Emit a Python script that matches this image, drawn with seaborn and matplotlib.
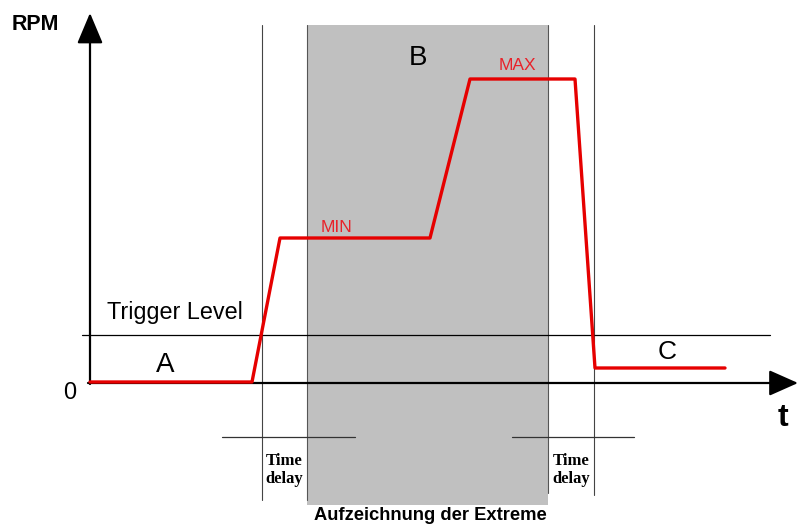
import pandas as pd
import matplotlib.pyplot as plt
import seaborn as sns

# RPM curve (time units, rpm units - origin at axis crossing)
time = [0, 162, 190, 340, 380, 485, 505, 635]
rpm = [1, 1, 145, 145, 304, 304, 15, 15]

trigger_level = 48
delay1_start = 172
record_start = 217
record_end = 458
delay2_end = 504

curve = pd.DataFrame({'t': time, 'rpm': rpm})

sns.set_style('white')
plt.rcParams['font.family'] = ['Liberation Sans', 'DejaVu Sans']
plt.rcParams['text.color'] = 'black'

fig = plt.figure(figsize=(7.99, 5.25), dpi=100)
ax = fig.add_axes([0, 0, 1, 1])

# recording window
ax.axvspan(record_start, record_end, ymin=(-122 + 142) / 525, ymax=(358 + 142) / 525,
           color='#c0c0c0', lw=0, zorder=0)
ax.plot([record_start, record_start], [-117, 358], color='#555555', lw=0.8, zorder=1)
ax.plot([record_end, record_end], [-110, 358], color='#555555', lw=0.8, zorder=1)

# time delay markers
ax.plot([delay1_start, delay1_start], [-117, 358], color='#444444', lw=0.8)
ax.plot([delay2_end, delay2_end], [-112, 358], color='#444444', lw=0.8)
ax.plot([132, 265], [-54, -54], color='#333333', lw=0.9)
ax.plot([422, 544], [-54, -54], color='#333333', lw=0.9)

# trigger level
ax.plot([-8, 680], [trigger_level, trigger_level], color='black', lw=0.9)

# axes arrows
ax.annotate('', xy=(0, 370), xytext=(0, -1),
            arrowprops=dict(arrowstyle='-|>,head_length=1.9,head_width=0.8',
                            mutation_scale=10, lw=1.6, color='black',
                            shrinkA=0, shrinkB=0))
ax.annotate('', xy=(708, 0), xytext=(-2, 0),
            arrowprops=dict(arrowstyle='-|>,head_length=1.8,head_width=0.8',
                            mutation_scale=10, lw=1.6, color='black',
                            shrinkA=0, shrinkB=0))

sns.lineplot(data=curve, x='t', y='rpm', sort=False, estimator=None,
             color='#e60000', lw=2.4, ax=ax, zorder=5)
ax.set_xlim(-90, 709)
ax.set_ylim(-142, 383)
ax.axis('off')

# labels
ax.text(-55, 358, 'RPM', fontsize=15.5, fontweight='bold', ha='center', va='center')
ax.text(-20, -10, '0', fontsize=17, ha='center', va='center')
ax.text(693, -35, 't', fontsize=23, fontweight='bold', ha='center', va='center')
ax.text(85, 71, 'Trigger Level', fontsize=16.8, ha='center', va='center')
ax.text(75, 18, 'A', fontsize=20, ha='center', va='center')
ax.text(328, 325, 'B', fontsize=20, ha='center', va='center')
ax.text(577, 31, 'C', fontsize=19, ha='center', va='center')
ax.text(247, 156, 'MIN', fontsize=12.5, color='#e8222a', ha='center', va='center')
ax.text(427, 317, 'MAX', fontsize=12.5, color='#e8222a', ha='center', va='center')
for x in [194, 481]:
    ax.text(x, -87, 'Time\ndelay', fontsize=12, fontweight='bold',
            family=['Liberation Serif'], ha='center', va='center', linespacing=1.15)
ax.text(340, -133, 'Aufzeichnung der Extreme', fontsize=13.2, fontweight='bold',
        ha='center', va='center')

fig.savefig('out.png', dpi=100)
